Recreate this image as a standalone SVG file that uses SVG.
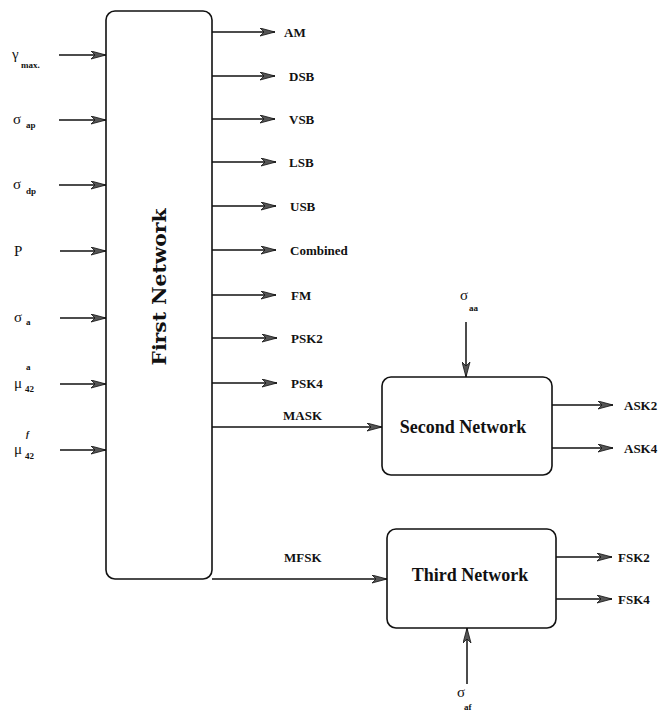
<svg xmlns="http://www.w3.org/2000/svg" width="663" height="717" viewBox="0 0 663 717">
  <style>
    .box { fill: #fff; stroke: #111; stroke-width: 1.6; }
    .wire { stroke: #111; stroke-width: 1.5; fill: none; marker-end: url(#arr); }
    .lbl { font-family: "Liberation Serif", "Times New Roman", serif; font-weight: bold; font-size: 13px; fill: #111; }
    .sym { font-family: "Liberation Serif", "Times New Roman", serif; font-size: 15px; fill: #111; }
    .sub { font-family: "Liberation Serif", "Times New Roman", serif; font-weight: bold; font-size: 9px; fill: #111; }
    .title { font-family: "Liberation Serif", "Times New Roman", serif; font-weight: bold; font-size: 18px; fill: #111; text-anchor: middle; }
    .wide { font-family: "DejaVu Serif", serif; font-weight: bold; font-size: 18px; fill: #111; text-anchor: middle; }
  </style>
  <defs>
    <marker id="arr" markerWidth="16" markerHeight="9" refX="15" refY="4.5" orient="auto" markerUnits="userSpaceOnUse">
      <path d="M0,0.5 L15,4.5 L0,8.5 L4,4.5 z" fill="#555" stroke="#111" stroke-width="0.8"/>
    </marker>
  </defs>

  <rect width="663" height="717" fill="#fff"/>

  <g id="connectors">
    <!-- inputs to first network -->
    <line class="wire" x1="59" y1="55" x2="106" y2="55"/>
    <line class="wire" x1="59" y1="120" x2="106" y2="120"/>
    <line class="wire" x1="59" y1="185" x2="106" y2="185"/>
    <line class="wire" x1="60" y1="251" x2="106" y2="251"/>
    <line class="wire" x1="60" y1="318" x2="106" y2="318"/>
    <line class="wire" x1="60" y1="384" x2="106" y2="384"/>
    <line class="wire" x1="60" y1="450" x2="106" y2="450"/>
    <!-- outputs of first network -->
    <line class="wire" x1="212" y1="32" x2="275" y2="32"/>
    <line class="wire" x1="212" y1="76" x2="275" y2="76"/>
    <line class="wire" x1="212" y1="119" x2="275" y2="119"/>
    <line class="wire" x1="212" y1="162" x2="276" y2="162"/>
    <line class="wire" x1="212" y1="206" x2="276" y2="206"/>
    <line class="wire" x1="212" y1="250" x2="276" y2="250"/>
    <line class="wire" x1="212" y1="295" x2="276" y2="295"/>
    <line class="wire" x1="212" y1="338" x2="277" y2="338"/>
    <line class="wire" x1="212" y1="383" x2="277" y2="383"/>
    <line class="wire" x1="212" y1="427" x2="382" y2="427"/>
    <line class="wire" x1="212" y1="579" x2="387" y2="579"/>
    <!-- second network -->
    <line class="wire" x1="466" y1="322" x2="466" y2="377"/>
    <line class="wire" x1="552" y1="405" x2="613" y2="405"/>
    <line class="wire" x1="552" y1="448" x2="613" y2="448"/>
    <!-- third network -->
    <line class="wire" x1="467" y1="684" x2="467" y2="628"/>
    <line class="wire" x1="556" y1="557" x2="612" y2="557"/>
    <line class="wire" x1="556" y1="599" x2="612" y2="599"/>
  </g>

  <g id="first-network">
    <rect class="box" x="106" y="11" width="106" height="568" rx="9"/>
    <text class="wide" transform="translate(166,287) rotate(-90)" textLength="157" lengthAdjust="spacingAndGlyphs">First Network</text>
  </g>

  <g id="second-network">
    <rect class="box" x="382" y="377" width="170" height="98" rx="9"/>
    <text class="title" x="463" y="433">Second Network</text>
  </g>

  <g id="third-network">
    <rect class="box" x="387" y="529" width="169" height="99" rx="9"/>
    <text class="title" x="470" y="581">Third Network</text>
  </g>

  <g id="input-labels">
    <text class="sym" x="12" y="59">γ</text><text class="sub" x="21" y="68">max.</text>
    <text class="sym" x="13" y="124">σ</text><text class="sub" x="26" y="128">ap</text>
    <text class="sym" x="13" y="189">σ</text><text class="sub" x="26" y="194">dp</text>
    <text class="sym" x="14" y="256">P</text>
    <text class="sym" x="14" y="322">σ</text><text class="sub" x="26" y="325">a</text>
    <text class="sub" x="26" y="370">a</text><text class="sym" x="14" y="388">μ</text><text class="sub" x="25" y="392">42</text>
    <text class="sub" x="26" y="437" font-style="italic">f</text><text class="sym" x="14" y="454">μ</text><text class="sub" x="25" y="459">42</text>
  </g>

  <g id="output-labels">
    <text class="lbl" x="284" y="37">AM</text>
    <text class="lbl" x="289" y="81">DSB</text>
    <text class="lbl" x="289" y="124">VSB</text>
    <text class="lbl" x="289" y="167">LSB</text>
    <text class="lbl" x="290" y="211">USB</text>
    <text class="lbl" x="290" y="255">Combined</text>
    <text class="lbl" x="291" y="300">FM</text>
    <text class="lbl" x="291" y="343">PSK2</text>
    <text class="lbl" x="291" y="388">PSK4</text>
    <text class="lbl" x="283" y="420">MASK</text>
    <text class="lbl" x="284" y="562">MFSK</text>
    <text class="lbl" x="624" y="410">ASK2</text>
    <text class="lbl" x="624" y="453">ASK4</text>
    <text class="lbl" x="618" y="562">FSK2</text>
    <text class="lbl" x="618" y="604">FSK4</text>
    <text class="sym" x="460" y="300">σ</text><text class="sub" x="469" y="311">aa</text>
    <text class="sym" x="457" y="697">σ</text><text class="sub" x="464" y="710">af</text>
  </g>
</svg>
